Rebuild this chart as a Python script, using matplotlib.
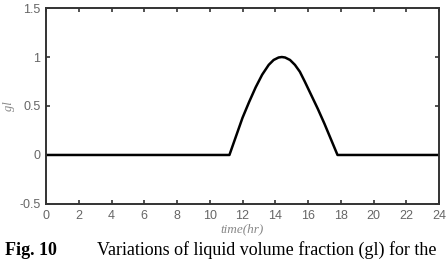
import matplotlib
matplotlib.use("Agg")
import matplotlib.pyplot as plt

# liquid volume fraction vs time
time_hr = [0, 11.2, 11.6, 12.0, 12.4, 12.8, 13.2, 13.6, 13.9, 14.2, 14.4, 14.6, 14.9, 15.2, 15.5,
           15.8, 16.2, 16.6, 17.0, 17.4, 17.8, 24]
gl = [0, 0, 0.19, 0.38, 0.54, 0.69, 0.82, 0.92, 0.97, 0.995, 1.0, 0.995, 0.97, 0.92, 0.85,
      0.75, 0.61, 0.47, 0.32, 0.16, 0, 0]

xticks = list(range(0, 25, 2))
yticks = [-0.5, 0, 0.5, 1, 1.5]

fig = plt.figure(figsize=(4.48, 2.68), dpi=100)
ax = fig.add_axes([0.1027, 0.239, 0.8773, 0.731])

ax.plot(time_hr, gl, color="black", lw=1.8, solid_joinstyle="round")
ax.set_xlim(0, 24)
ax.set_ylim(-0.5, 1.5)
ax.set_xticks(xticks)
ax.set_yticks(yticks)
ax.set_yticklabels(["-0.5", "0", "0.5", "1", "1.5"])

gray = "#666666"
for s in ax.spines.values():
    s.set_color("#333333")
    s.set_linewidth(1.4)
ax.tick_params(direction="in", top=True, right=True, length=3, width=1.2,
               color="#333333", labelcolor=gray, labelsize=9, pad=4,
               labelfontfamily="Liberation Sans")

ax.set_xlabel("time(hr)", fontsize=9.5, style="italic", color="#888888", labelpad=1,
              family="Liberation Serif")
ax.set_ylabel("gl", fontsize=9, style="italic", color="#888888", labelpad=3,
              family="Liberation Serif")

fig.text(0.012, 0.05, "Fig. 10", fontsize=13, fontweight="bold", family="Liberation Serif")
fig.text(0.216, 0.05, "Variations of liquid volume fraction (gl) for the", fontsize=13,
         family="Liberation Serif")

fig.savefig("out.png", dpi=100)
